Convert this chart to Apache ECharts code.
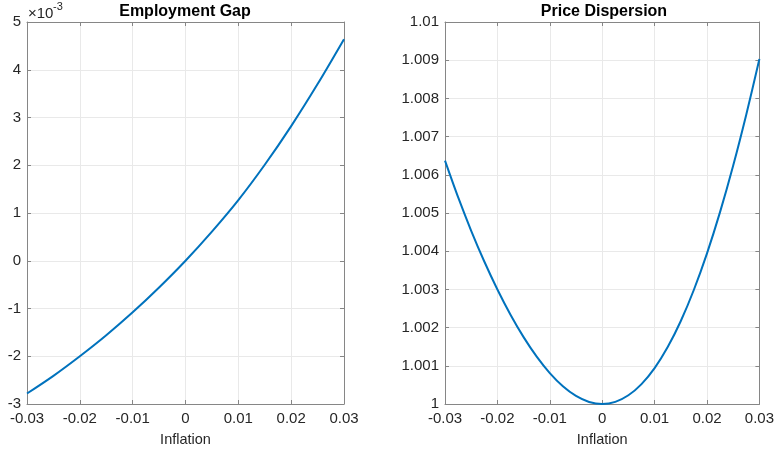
<!DOCTYPE html>
<html>
<head>
<meta charset="utf-8">
<script src="https://cdn.jsdelivr.net/npm/echarts@6/dist/echarts.min.js"></script>
<style>
html,body{margin:0;padding:0;background:#fff;}
#chart{width:777px;height:453px;}
</style>
</head>
<body>
<div id="chart"></div>
<script>
// Inflation values for the employment-gap panel
var inflationA = [-0.03, -0.025, -0.02, -0.015, -0.01, -0.005, 0, 0.005, 0.01, 0.015, 0.02, 0.025, 0.03];
// Employment gap, in units of 1e-3 (as shown on the axis)
var employmentGap = [-2.78, -2.41, -2.00, -1.56, -1.08, -0.56, 0, 0.61, 1.27, 2.01, 2.82, 3.70, 4.64];
// Inflation values for the price-dispersion panel
var inflationB = [-0.03, -0.0275, -0.025, -0.0225, -0.02, -0.0175, -0.015, -0.0125, -0.01, -0.0075, -0.005, -0.0025, 0,
                  0.0025, 0.005, 0.0075, 0.01, 0.0125, 0.015, 0.0175, 0.02, 0.0225, 0.025, 0.0275, 0.03];
// Price dispersion
var priceDispersion = [1.006370, 1.005413, 1.004535, 1.003730, 1.002998, 1.002338, 1.001751, 1.001240, 1.000810, 1.000465, 1.000211, 1.000054, 1.000000,
                       1.000056, 1.000228, 1.000521, 1.000940, 1.001490, 1.002173, 1.002991, 1.003944, 1.005029, 1.006243, 1.007580, 1.009030];
// Tick labels
var xTicks = ['-0.03', '-0.02', '-0.01', '0', '0.01', '0.02', '0.03'];
var titles = ['Employment Gap', 'Price Dispersion'];
var xLabel = 'Inflation';
var exponentLabel = ['×10', '-3'];

function pairs(xs, ys) { return xs.map(function (x, i) { return [x, ys[i]]; }); }

var textColor = '#262626';
var frameColor = '#868686';
var gridColor = '#e9e9e9';
var font = "'Liberation Sans', Arial, Helvetica, sans-serif";

function xAxisFor(gi, pos) {
  var main = pos === 'bottom';
  return {
    type: 'value', gridIndex: gi, position: pos,
    min: -0.03, max: 0.03, interval: 0.01,
    name: main ? xLabel : '', nameLocation: 'middle', nameGap: 28,
    nameTextStyle: { color: textColor, fontSize: 14.5, fontFamily: font },
    axisLine: { show: true, onZero: false, lineStyle: { color: frameColor, width: 1 } },
    axisTick: { show: true, inside: true, length: 4, lineStyle: { color: frameColor } },
    axisLabel: {
      show: main, margin: 7, color: textColor, fontSize: 15, fontFamily: font,
      formatter: function (v) { var i = Math.round((v + 0.03) / 0.01); return xTicks[i]; }
    },
    splitLine: { show: main, lineStyle: { color: gridColor, width: 1 } }
  };
}

function yAxisFor(gi, pos, min, max, interval, fmt) {
  var main = pos === 'left';
  return {
    type: 'value', gridIndex: gi, position: pos,
    min: min, max: max, interval: interval,
    axisLine: { show: true, onZero: false, lineStyle: { color: frameColor, width: 1 } },
    axisTick: { show: true, inside: true, length: 4, lineStyle: { color: frameColor } },
    axisLabel: { show: main, margin: 6, color: textColor, fontSize: 15, fontFamily: font, formatter: fmt },
    splitLine: { show: main, lineStyle: { color: gridColor, width: 1 } }
  };
}

var chart = echarts.init(document.getElementById('chart'));
chart.setOption({
  animation: false,
  backgroundColor: '#ffffff',
  title: [
    { text: titles[0], left: 185, top: 4, padding: 0, textAlign: 'center',
      textStyle: { fontSize: 16, fontWeight: 'bold', color: '#000', fontFamily: font } },
    { text: titles[1], left: 604, top: 4, padding: 0, textAlign: 'center',
      textStyle: { fontSize: 16, fontWeight: 'bold', color: '#000', fontFamily: font } },
    { text: exponentLabel[0], left: 28, top: 6, padding: 0,
      textStyle: { fontSize: 15, fontWeight: 'normal', color: textColor, fontFamily: font } },
    { text: exponentLabel[1], left: 53, top: 1, padding: 0,
      textStyle: { fontSize: 11, fontWeight: 'normal', color: textColor, fontFamily: font } }
  ],
  grid: [
    { left: 27, right: 433, top: 22, bottom: 49, containLabel: false },
    { left: 445, right: 14, top: 22, bottom: 49, containLabel: false }
  ],
  xAxis: [
    xAxisFor(0, 'bottom'), xAxisFor(1, 'bottom'),
    xAxisFor(0, 'top'), xAxisFor(1, 'top')
  ],
  yAxis: [
    yAxisFor(0, 'left', -3, 5, 1, function (v) { return String(Math.round(v)); }),
    yAxisFor(1, 'left', 1, 1.01, 0.001, function (v) { return String(parseFloat(v.toFixed(3))); }),
    yAxisFor(0, 'right', -3, 5, 1, null),
    yAxisFor(1, 'right', 1, 1.01, 0.001, null)
  ],
  series: [
    { type: 'line', xAxisIndex: 0, yAxisIndex: 0, data: pairs(inflationA, employmentGap),
      showSymbol: false, smooth: 0.3, lineStyle: { color: '#0072BD', width: 2 }, itemStyle: { color: '#0072BD' } },
    { type: 'line', xAxisIndex: 1, yAxisIndex: 1, data: pairs(inflationB, priceDispersion),
      showSymbol: false, smooth: 0.3, lineStyle: { color: '#0072BD', width: 2 }, itemStyle: { color: '#0072BD' } }
  ]
});
</script>
</body>
</html>
